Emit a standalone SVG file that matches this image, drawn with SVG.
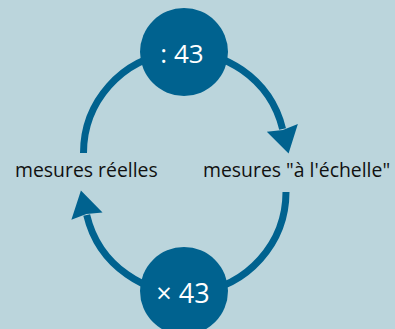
<svg xmlns="http://www.w3.org/2000/svg" width="395" height="329" viewBox="0 0 395 329">
<style>
.arc{fill:none;stroke:#00628f;stroke-width:7}
.node{fill:#00628f}
.num{fill:#ffffff;font-family:"Open Sans",sans-serif;text-anchor:middle}
.lbl{fill:#111111;font-family:"Open Sans",sans-serif;font-size:19.4px}
</style>
<defs>
<marker id="ah" markerUnits="userSpaceOnUse" markerWidth="30" markerHeight="32" refX="1" refY="14" orient="auto" viewBox="0 0 24 28">
<path d="M0,0 L23,14 L0,28 L2,14 z" fill="#00628f"/>
</marker>
</defs>
<rect width="395" height="329" fill="#bbd5dc"/>
<g id="connectors">
<path class="arc" d="M83.5,153 A101,101 0 0,1 282.6,129" marker-end="url(#ah)"/>
<path class="arc" d="M286,192 A101,101 0 0,1 86.7,215" marker-end="url(#ah)"/>
</g>
<g id="node-divide">
<circle class="node" cx="184" cy="52" r="44"/>
<text class="num" x="182" y="62.5" font-size="26">: 43</text>
</g>
<g id="node-multiply">
<circle class="node" cx="184" cy="291" r="44"/>
<text class="num" x="183" y="303" font-size="27">× 43</text>
</g>
<g id="node-real">
<text class="lbl" x="15" y="177">mesures réelles</text>
</g>
<g id="node-scale">
<text class="lbl" x="203" y="177">mesures "à l'échelle"</text>
</g>
</svg>
